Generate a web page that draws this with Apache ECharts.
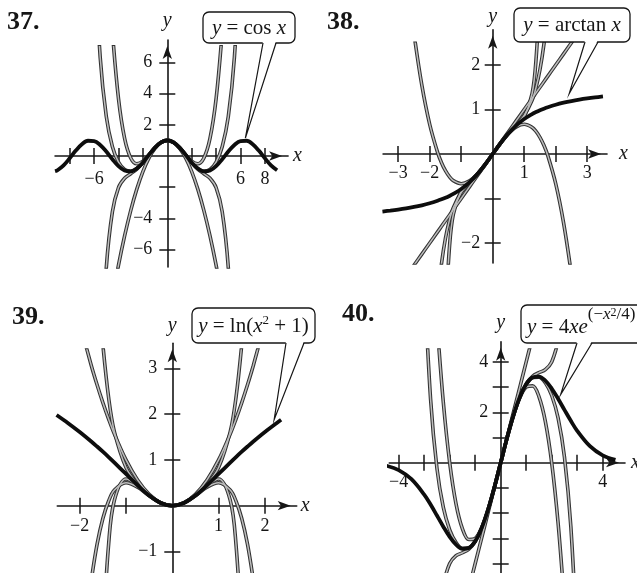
<!DOCTYPE html>
<html>
<head>
<meta charset="utf-8">
<script src="https://cdn.jsdelivr.net/npm/echarts@6.0.0/dist/echarts.min.js"></script>
</head>
<body style="margin:0;background:#fff">
<div id="main" style="width:637px;height:573px"></div>
<script>
var _ = null;

// 37.  y = cos x  with P2, P4, P6, P8
var x37 = [-9.2, -9, -8.5, -8, -7.5, -7, -6.5, -6, -5.5, -5, -4.5, -4, -3.5, -3, -2.5, -2, -1.5, -1, -0.5, 0,
           0.5, 1, 1.5, 2, 2.5, 3, 3.5, 4, 4.5, 5, 5.5, 6, 6.5, 7, 7.5, 8, 8.5, 9];
var cos37 = [-0.975, -0.911, -0.602, -0.146, 0.347, 0.754, 0.977, 0.960, 0.709, 0.284, -0.211, -0.654, -0.937, -0.990, -0.801, -0.416, 0.071, 0.540, 0.878, 1,
             0.878, 0.540, 0.071, -0.416, -0.801, -0.990, -0.937, -0.654, -0.211, 0.284, 0.709, 0.960, 0.977, 0.754, 0.347, -0.146, -0.602, -0.911];
var p2_37 = [_, _, _, _, _, _, _, _, _, _, -9.125, -7, -5.125, -3.5, -2.125, -1, -0.125, 0.5, 0.875, 1,
             0.875, 0.5, -0.125, -1, -2.125, -3.5, -5.125, -7, -9.125, _, _, _, _, _, _, _, _, _];
var p4_37 = [_, _, _, _, _, _, _, _, _, _, 7.961, 3.667, 1.128, -0.125, -0.497, -0.333, 0.086, 0.542, 0.878, 1,
             0.878, 0.542, 0.086, -0.333, -0.497, -0.125, 1.128, 3.667, 7.961, _, _, _, _, _, _, _, _, _];
var p6_37 = [_, _, _, _, _, _, _, _, -14.44, -7.16, -3.572, -2.022, -1.426, -1.138, -0.837, -0.422, 0.070, 0.540, 0.878, 1,
             0.878, 0.540, 0.070, -0.422, -0.837, -1.138, -1.426, -2.022, -3.572, -7.16, -14.44, _, _, _, _, _, _, _];
var p8_37 = [_, _, _, _, _, _, _, 13.857, 6.327, 2.528, 0.598, -0.397, -0.867, -0.975, -0.799, -0.416, 0.071, 0.540, 0.878, 1,
             0.878, 0.540, 0.071, -0.416, -0.799, -0.975, -0.867, -0.397, 0.598, 2.528, 6.327, 13.857, _, _, _, _, _, _];
var xTicks37 = [-8, -6, -4, -2, 2, 4, 6, 8];
var xLabels37 = [-6, 6, 8];
var yTicks37 = [-6, -4, -2, 2, 4, 6];
var yLabels37 = [-6, -4, 2, 4, 6];
var tip37 = [6.4, 1.15];

// 38.  y = arctan x  with P1, P3, P5, P9
var x38 = [-3.5, -3.25, -3, -2.75, -2.5, -2.25, -2, -1.75, -1.625, -1.5, -1.375, -1.25, -1, -0.75, -0.5, -0.25, 0,
           0.25, 0.5, 0.75, 1, 1.25, 1.375, 1.5, 1.625, 1.75, 2, 2.25, 2.5, 2.75, 3, 3.25, 3.5];
var atan38 = [-1.2925, -1.2722, -1.2490, -1.2220, -1.1903, -1.1526, -1.1071, -1.0517, -1.0191, -0.9828, -0.9420, -0.8961, -0.7854, -0.6435, -0.4636, -0.2450, 0,
              0.2450, 0.4636, 0.6435, 0.7854, 0.8961, 0.9420, 0.9828, 1.0191, 1.0517, 1.1071, 1.1526, 1.1903, 1.2220, 1.2490, 1.2722, 1.2925];
var p1_38 = [_, _, _, -2.75, -2.5, -2.25, -2, -1.75, -1.625, -1.5, -1.375, -1.25, -1, -0.75, -0.5, -0.25, 0,
             0.25, 0.5, 0.75, 1, 1.25, 1.375, 1.5, 1.625, 1.75, 2, 2.25, 2.5, 2.75, _, _, _];
var p3_38 = [_, _, _, _, 2.708, 1.547, 0.667, 0.037, -0.195, -0.375, -0.509, -0.599, -0.667, -0.609, -0.458, -0.245, 0,
             0.245, 0.458, 0.609, 0.667, 0.599, 0.509, 0.375, 0.195, -0.037, -0.667, -1.547, -2.708, _, _, _, _];
var p5_38 = [_, _, _, _, _, _, _, -3.246, -2.461, -1.894, -1.492, -1.209, -0.867, -0.657, -0.465, -0.245, 0,
             0.245, 0.465, 0.657, 0.867, 1.209, 1.492, 1.894, 2.461, 3.246, _, _, _, _, _, _, _];
var p9_38 = [_, _, _, _, _, _, _, _, _, -3.725, -2.116, -1.356, -0.835, -0.646, -0.464, -0.245, 0,
             0.245, 0.464, 0.646, 0.835, 1.356, 2.116, 3.725, _, _, _, _, _, _, _, _, _];
var xTicks38 = [-3, -2, -1, 1, 2, 3];
var xLabels38 = [-3, -2, 1, 3];
var yTicks38 = [-2, -1, 1, 2];
var yLabels38 = [-2, 1, 2];
var tip38 = [2.43, 1.36];

// 39.  y = ln(x^2 + 1)  with P2, P4, P6, P8
var x39 = [-2.5, -2.25, -2, -1.75, -1.625, -1.5, -1.375, -1.25, -1, -0.75, -0.5, -0.25, 0,
           0.25, 0.5, 0.75, 1, 1.25, 1.375, 1.5, 1.625, 1.75, 2, 2.25, 2.35];
var ln39 = [1.9810, 1.8021, 1.6094, 1.4018, 1.2921, 1.1787, 1.0615, 0.9410, 0.6931, 0.4463, 0.2231, 0.0606, 0,
            0.0606, 0.2231, 0.4463, 0.6931, 0.9410, 1.0615, 1.1787, 1.2921, 1.4018, 1.6094, 1.8021, 1.8752];
var p2_39 = [_, _, 4, 3.063, 2.641, 2.25, 1.891, 1.563, 1, 0.563, 0.25, 0.063, 0,
             0.063, 0.25, 0.563, 1, 1.563, 1.891, 2.25, 2.641, 3.063, 4, _, _];
var p4_39 = [_, _, _, -1.627, -0.846, -0.281, 0.103, 0.342, 0.5, 0.404, 0.219, 0.061, 0,
             0.061, 0.219, 0.404, 0.5, 0.342, 0.103, -0.281, -0.846, -1.627, _, _, _];
var p6_39 = [_, _, _, _, _, 3.516, 2.356, 1.613, 0.833, 0.464, 0.224, 0.061, 0,
             0.061, 0.224, 0.464, 0.833, 1.613, 2.356, 3.516, _, _, _, _, _];
var p8_39 = [_, _, _, _, _, -2.892, -0.838, 0.123, 0.583, 0.439, 0.223, 0.061, 0,
             0.061, 0.223, 0.439, 0.583, 0.123, -0.838, -2.892, _, _, _, _, _];
var xTicks39 = [-2, -1, 1, 2];
var xLabels39 = [-2, 1, 2];
var yTicks39 = [-1, 1, 2, 3];
var yLabels39 = [-1, 1, 2, 3];
var tip39 = [2.2, 1.88];

// 40.  y = 4x e^(-x^2/4)  with P1, P3, P5, P7
var x40 = [-4.5, -4, -3.5, -3, -2.75, -2.5, -2.25, -2, -1.75, -1.5, -1.25, -1, -0.75, -0.5, -0.25, 0,
           0.25, 0.5, 0.75, 1, 1.25, 1.5, 1.75, 2, 2.25, 2.5, 2.75, 3, 3.5, 4, 4.5];
var f40 = [-0.114, -0.293, -0.655, -1.265, -1.661, -2.096, -2.539, -2.943, -3.255, -3.419, -3.383, -3.115, -2.607, -1.879, -0.985, 0,
           0.985, 1.879, 2.607, 3.115, 3.383, 3.419, 3.255, 2.943, 2.539, 2.096, 1.661, 1.265, 0.655, 0.293, 0.114];
var p1_40 = [_, _, _, _, _, _, _, _, _, _, -5, -4, -3, -2, -1, 0,
             1, 2, 3, 4, 5, _, _, _, _, _, _, _, _, _, _];
var p3_40 = [_, _, _, _, _, 5.625, 2.391, 0, -1.641, -2.625, -3.047, -3, -2.578, -1.875, -0.984, 0,
             0.984, 1.875, 2.578, 3, 3.047, 2.625, 1.641, 0, -2.391, -5.625, _, _, _, _, _];
var p5_40 = [_, _, _, _, _, _, -4.818, -4, -3.692, -3.574, -3.428, -3.125, -2.608, -1.879, -0.984, 0,
             0.984, 1.879, 2.608, 3.125, 3.428, 3.574, 3.692, 4, 4.818, _, _, _, _, _, _];
var p7_40 = [_, _, _, 7.406, 2.527, -0.224, -1.777, -2.667, -3.169, -3.396, -3.379, -3.115, -2.606, -1.879, -0.984, 0,
             0.984, 1.879, 2.606, 3.115, 3.379, 3.396, 3.169, 2.667, 1.777, 0.224, -2.527, -7.406, _, _, _];
var xTicks40 = [-4, -3, -2, -1, 1, 2, 3, 4];
var xLabels40 = [-4, 4];
var yTicks40 = [-4, -3, -2, -1, 1, 2, 3, 4];
var yLabels40 = [2, 4];
var tip40 = [2.35, 2.7];

var SERIF = '"Liberation Serif", "Times New Roman", Times, serif';
var INK = '#161616';

// layout per panel: origin (px), px per unit, axis ranges, clip height of the curves
var panels = [
  { title: '37.', tx: 7, ty: 22, ox: 167.3, oy: 156, ux: 12.2, uy: 15.6,
    xr: [-9.2, 9.9], yr: [-7.12, 7.44], clip: 7.0,
    xTicks: xTicks37, xLabels: xLabels37, yTicks: yTicks37, yLabels: yLabels37,
    xMargin: 14, yMargin: 15, xGap: 5, yGap: 9,
    xs: x37, f: cos37, polys: [p2_37, p4_37, p6_37, p8_37],
    box: [203, 12, 92, 31], base: [263, 276], tip: tip37,
    text: '{i|y} = cos {i|x}', textAt: [249, 28], align: 'center', lh: 24 },
  { title: '38.', tx: 327, ty: 22.5, ox: 492.7, oy: 154, ux: 31.5, uy: 44.5,
    xr: [-3.48, 3.63], yr: [-2.45, 2.79], clip: 2.49,
    xTicks: xTicks38, xLabels: xLabels38, yTicks: yTicks38, yLabels: yLabels38,
    xMargin: 10, yMargin: 12.5, xGap: 12, yGap: 3,
    xs: x38, f: atan38, polys: [p1_38, p3_38, p5_38, p9_38],
    box: [514, 8, 116, 34], base: [585, 598], tip: tip38,
    text: '{i|y} = arctan {i|x}', textAt: [572, 25.5], align: 'center', lh: 24 },
  { title: '39.', tx: 12, ty: 317, ox: 172.3, oy: 505.7, ux: 46.3, uy: 45.8,
    xr: [-2.484, 2.687], yr: [-1.5, 3.546], clip: 3.40,
    xTicks: xTicks39, xLabels: xLabels39, yTicks: yTicks39, yLabels: yLabels39,
    xMargin: 12, yMargin: 15, xGap: 4, yGap: 8,
    xs: x39, f: ln39, polys: [p2_39, p4_39, p6_39, p8_39],
    box: [192, 308, 123, 35], base: [286, 304], tip: tip39,
    text: '{i|y} = ln({i|x}{s|2} + 1)', textAt: [253.5, 326], align: 'center', lh: 24 },
  { title: '40.', tx: 342, ty: 314, ox: 500.7, oy: 462.7, ux: 25.5, uy: 25.2,
    xr: [-4.369, 4.875], yr: [-4.45, 4.80], clip: 4.47,
    xTicks: xTicks40, xLabels: xLabels40, yTicks: yTicks40, yLabels: yLabels40,
    xMargin: 11, yMargin: 12.5, xGap: 6, yGap: 9,
    xs: x40, f: f40, polys: [p1_40, p3_40, p5_40, p7_40],
    box: [521, 305, 140, 38], base: [577, 592], tip: tip40,
    text: '{i|y} = 4{i|xe}{e|(\u2212}{ei|x}{ee|2}{e|/4)}', textAt: [527, 327], align: 'left', lh: 41 }
];

function fmt(v) { return String(v).replace('-', '\u2212'); }

var grids = [], xAxes = [], yAxes = [], series = [];
var tickLine = { color: INK, width: 1.5 };
var nameStyle = { fontFamily: SERIF, fontStyle: 'italic', fontSize: 20, color: INK };

function curve(p, ys, color, width, z) {
  return {
    type: 'line', xAxisIndex: p.xc, yAxisIndex: p.yc, z: z, silent: true,
    data: p.xs.map(function (x, i) { return [x, ys[i] == null ? '-' : ys[i]]; }),
    showSymbol: false, symbol: 'none', smooth: 0.35,
    lineStyle: { color: color, width: width }
  };
}

panels.forEach(function (p) {
  var left = p.ox + p.xr[0] * p.ux;
  var right = p.ox + p.xr[1] * p.ux;
  var topPx = p.oy - p.yr[1] * p.uy;
  var botPx = p.oy - p.yr[0] * p.uy;
  var clipPx = p.oy - p.clip * p.uy;

  var ga = grids.length;
  grids.push({ left: left, top: topPx, width: right - left, height: botPx - topPx, outerBoundsMode: 'none', containLabel: false });
  var gc = grids.length;
  grids.push({ left: left, top: clipPx, width: right - left, height: botPx - clipPx, outerBoundsMode: 'none', containLabel: false });

  // axes crossing at the origin: the offsets move them in from the grid edges,
  // a pair per direction gives ticks on both sides of the line
  xAxes.push({
    type: 'value', gridIndex: ga, min: p.xr[0], max: p.xr[1], position: 'bottom', offset: -(botPx - p.oy),
    axisLine: { onZero: false, symbol: ['none', 'arrow'], symbolSize: [7, 13], symbolOffset: [0, -6],
                lineStyle: { color: INK, width: 1.6 } },
    axisTick: { length: 8, customValues: p.xTicks, lineStyle: tickLine },
    axisLabel: { customValues: p.xLabels, margin: p.xMargin, formatter: fmt, color: INK, fontFamily: SERIF, fontSize: 18 },
    splitLine: { show: false },
    name: 'x', nameLocation: 'end', nameGap: p.xGap, nameTextStyle: nameStyle
  });
  xAxes.push({
    type: 'value', gridIndex: ga, min: p.xr[0], max: p.xr[1], position: 'top', offset: -(p.oy - topPx),
    axisLine: { onZero: false, lineStyle: { opacity: 0 } },
    axisTick: { length: 8, customValues: p.xTicks, lineStyle: tickLine },
    axisLabel: { show: false }, splitLine: { show: false }
  });
  yAxes.push({
    type: 'value', gridIndex: ga, min: p.yr[0], max: p.yr[1], position: 'left', offset: -(p.ox - left),
    axisLine: { onZero: false, symbol: ['none', 'arrow'], symbolSize: [7, 13], symbolOffset: [0, -6],
                lineStyle: { color: INK, width: 1.6 } },
    axisTick: { length: 8, customValues: p.yTicks, lineStyle: tickLine },
    axisLabel: { customValues: p.yLabels, margin: p.yMargin, formatter: fmt, color: INK, fontFamily: SERIF, fontSize: 18 },
    splitLine: { show: false },
    name: 'y', nameLocation: 'end', nameGap: p.yGap, nameTextStyle: nameStyle
  });
  yAxes.push({
    type: 'value', gridIndex: ga, min: p.yr[0], max: p.yr[1], position: 'right', offset: -(right - p.ox),
    axisLine: { onZero: false, lineStyle: { opacity: 0 } },
    axisTick: { length: 8, customValues: p.yTicks, lineStyle: tickLine },
    axisLabel: { show: false }, splitLine: { show: false }
  });

  p.xc = xAxes.length; p.yc = yAxes.length;
  xAxes.push({ type: 'value', gridIndex: gc, min: p.xr[0], max: p.xr[1], show: false });
  yAxes.push({ type: 'value', gridIndex: gc, min: p.yr[0], max: p.clip, show: false });

  // the printed grey curves look like a dark outline with a light core
  p.polys.forEach(function (ys) {
    series.push(curve(p, ys, '#333', 3.6, 2));
    series.push(curve(p, ys, '#bdbdbd', 1.5, 3));
  });
  series.push(curve(p, p.f, '#0d0d0d', 3.8, 4));
});

var chart = echarts.init(document.getElementById('main'));
chart.setOption({ animation: false, grid: grids, xAxis: xAxes, yAxis: yAxes, series: series });

var rich = {
  i: { fontFamily: SERIF, fontStyle: 'italic', fontSize: 21 },
  s: { fontFamily: SERIF, fontSize: 13, verticalAlign: 'top' },
  e: { fontFamily: SERIF, fontSize: 17, verticalAlign: 'top' },
  ei: { fontFamily: SERIF, fontSize: 17, fontStyle: 'italic', verticalAlign: 'top' },
  ee: { fontFamily: SERIF, fontSize: 12, verticalAlign: 'top' }
};

var graphics = [];
panels.forEach(function (p) {
  graphics.push({ type: 'text', x: p.tx, y: p.ty, z: 100,
    style: { text: p.title, fontFamily: SERIF, fontWeight: 'bold', fontSize: 26, fill: INK,
             textVerticalAlign: 'middle', verticalAlign: 'middle' } });
  var tip = chart.convertToPixel({ xAxisIndex: p.xc, yAxisIndex: p.yc }, p.tip);
  var b = p.box, by = b[1] + b[3];
  graphics.push({ type: 'rect', z: 100, shape: { x: b[0], y: b[1], width: b[2], height: b[3], r: 6 },
    style: { fill: '#fff', stroke: INK, lineWidth: 1.3 } });
  graphics.push({ type: 'polygon', z: 101, shape: { points: [[p.base[0], by - 2], tip, [p.base[1], by - 2]] },
    style: { fill: '#fff' } });
  graphics.push({ type: 'polyline', z: 102, shape: { points: [[p.base[0], by], tip, [p.base[1], by]] },
    style: { stroke: INK, lineWidth: 1.2, fill: null } });
  graphics.push({ type: 'text', x: p.textAt[0], y: p.textAt[1], z: 103,
    style: { text: p.text, rich: rich, fontFamily: SERIF, fontSize: 21, lineHeight: p.lh, fill: INK,
             textAlign: p.align, align: p.align, textVerticalAlign: 'middle', verticalAlign: 'middle' } });
});
chart.setOption({ graphic: graphics });
</script>
</body>
</html>
